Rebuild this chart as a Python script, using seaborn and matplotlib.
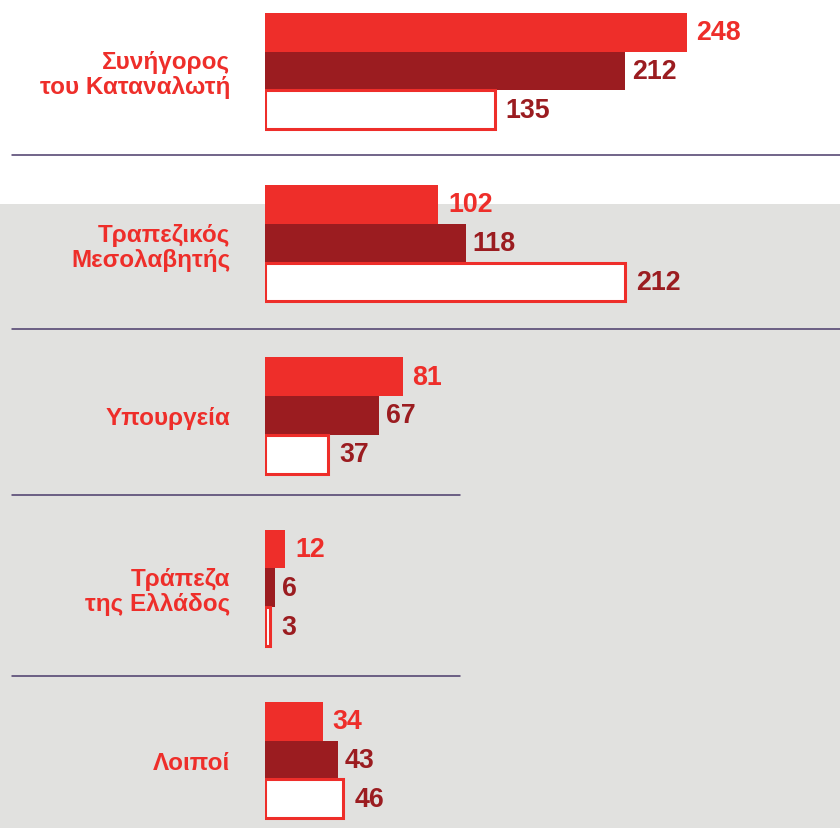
import pandas as pd
import seaborn as sns
import matplotlib.pyplot as plt
from matplotlib.patches import Rectangle
from matplotlib.transforms import blended_transform_factory

# φορείς και τιμές των τριών σειρών
categories = ['Συνήγορος\nτου Καταναλωτή', 'Τραπεζικός\nΜεσολαβητής',
              'Υπουργεία', 'Τράπεζα\nτης Ελλάδος', 'Λοιποί']
series = ['Σειρά 1', 'Σειρά 2', 'Σειρά 3']
values_1 = [248, 102, 81, 12, 34]
values_2 = [212, 118, 67, 6, 43]
values_3 = [135, 212, 37, 3, 46]

RED = '#ee2e2a'
DARK_RED = '#9b1c20'
GREY_BG = '#e1e1df'
LINE = '#4a3a6a'

df = pd.DataFrame({
    'Φορέας': categories * 3,
    'Σειρά': [series[0]] * 5 + [series[1]] * 5 + [series[2]] * 5,
    'Τιμή': values_1 + values_2 + values_3,
})

sns.set_theme(style='white')
plt.rcParams['font.family'] = ['Liberation Sans', 'DejaVu Sans']

W, H = 840, 829
fig = plt.figure(figsize=(W / 100, H / 100), dpi=100)
fig.patch.set_facecolor('white')
# γκρι φόντο κάτω από το πρώτο μπλοκ
fig.patches.append(Rectangle((0, 0), 1, (H - 205) / H, transform=fig.transFigure,
                             facecolor=GREY_BG, edgecolor='none', zorder=0))

ax = fig.add_axes([265 / W, 0, (W - 265) / W, 1])
ax.set_facecolor('none')
ax.set_zorder(2)

sns.barplot(data=df, y='Φορέας', x='Τιμή', hue='Σειρά', order=categories,
            hue_order=series, palette=[RED, DARK_RED, 'white'], orient='h',
            width=0.675, legend=False, ax=ax, saturation=1)

for bar in ax.containers[0]:
    bar.set_edgecolor('none')
for bar in ax.containers[1]:
    bar.set_edgecolor('none')
for bar in ax.containers[2]:
    bar.set_edgecolor(RED)
    bar.set_linewidth(2.2)

ax.bar_label(ax.containers[0], padding=7, color=RED, fontsize=19.3, fontweight='bold')
ax.bar_label(ax.containers[1], padding=5, color=DARK_RED, fontsize=19.3, fontweight='bold')
ax.bar_label(ax.containers[2], padding=8, color=DARK_RED, fontsize=19.3, fontweight='bold')

pitch = 172.25
ax.set_ylim(4 + (H - 761) / pitch, -72 / pitch)
ax.set_xlim(0, (W - 265) / 1.7)

ax.set_xlabel('')
ax.set_ylabel('')
ax.set_xticks([])
ax.tick_params(axis='y', length=0, pad=25)
for lbl in ax.get_yticklabels():
    lbl.set_color(RED)
    lbl.set_fontweight('bold')
    lbl.set_fontsize(17.5)
    lbl.set_linespacing(1.1)
sns.despine(ax=ax, left=True, bottom=True)

# διαχωριστικές γραμμές ανάμεσα στις ομάδες
trans = blended_transform_factory(fig.transFigure, ax.transData)
for y, x_end in [(0.49, 1.0), (1.5, 1.0), (2.46, 460 / W), (3.51, 460 / W)]:
    ax.plot([12 / W, x_end], [y, y], color=LINE, linewidth=1.1,
            transform=trans, clip_on=False)

fig.savefig('out.png', dpi=100)
